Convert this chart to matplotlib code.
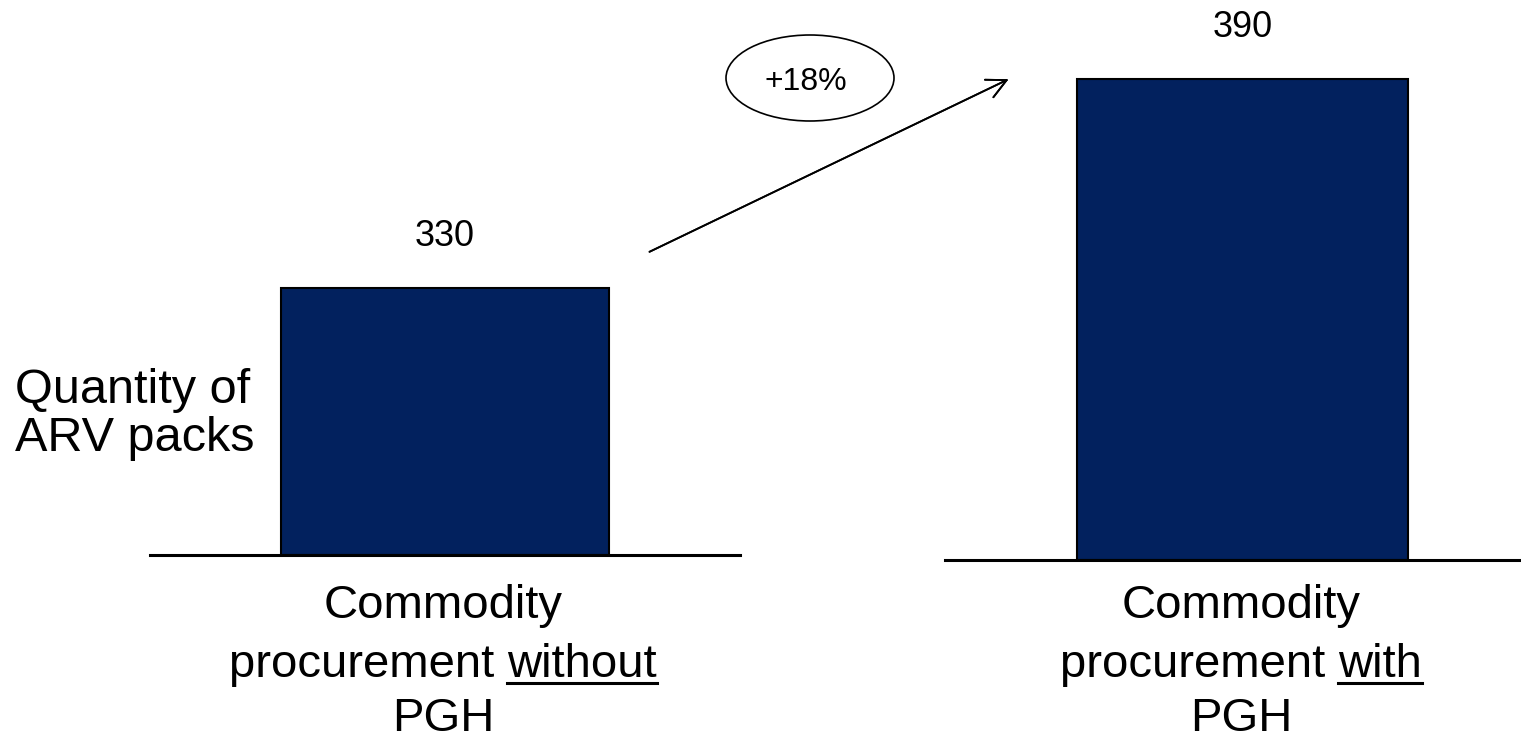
import matplotlib.pyplot as plt
from matplotlib.patches import Ellipse

plt.rcParams['font.family'] = ['Liberation Sans', 'DejaVu Sans']

# data
categories = ['Commodity procurement without PGH', 'Commodity procurement with PGH']
values = [330, 390]
label_lines = [
    ['Commodity', 'procurement ', 'without', 'PGH'],
    ['Commodity', 'procurement ', 'with', 'PGH'],
]
ylabel_lines = ['Quantity of', 'ARV packs']

W, H = 1521, 733
bar_color = '#02215E'


def fx(x):
    return x / W


def fy(y):
    return 1 - y / H


fig = plt.figure(figsize=(W / 100, H / 100), dpi=100)

# each bar sits on its own baseline, so one axes per bar
# (left px, right px, baseline px, pixel height of bar)
panels = [(150, 740, 555, 267), (945, 1540, 560, 481)]
for (x0, x1, base, hpx), val in zip(panels, values):
    ax = fig.add_axes([fx(x0), fy(base), (x1 - x0) / W, base / H])
    ax.bar([0.5], [val], width=0.557, color=bar_color, edgecolor='black', linewidth=1.5)
    ax.set_xlim(0, 1)
    ax.set_ylim(0, val * base / hpx)
    for s in ['top', 'left', 'right']:
        ax.spines[s].set_visible(False)
    ax.spines['bottom'].set_linewidth(2.2)
    ax.set_xticks([])
    ax.set_yticks([])
    ax.patch.set_alpha(0)
    ax.annotate(str(val), xy=(0.5, val), xytext=(0, 30.5), textcoords='offset points',
                ha='center', va='baseline', fontsize=26)

# y label
fig.text(fx(15), fy(403), ylabel_lines[0], ha='left', va='baseline', fontsize=35)
fig.text(fx(15), fy(451), ylabel_lines[1], ha='left', va='baseline', fontsize=35)

# category labels, with underline on the key word
fig.canvas.draw()
renderer = fig.canvas.get_renderer()
centers = [443, 1241]
baselines = [618, 677, 731]
fs = 34
for cx, lines in zip(centers, label_lines):
    fig.text(fx(cx), fy(baselines[0]), lines[0], ha='center', va='baseline', fontsize=fs)
    fig.text(fx(cx), fy(baselines[2]), lines[3], ha='center', va='baseline', fontsize=fs)
    t1 = fig.text(0, 0, lines[1], fontsize=fs)
    t2 = fig.text(0, 0, lines[2], fontsize=fs)
    w1 = t1.get_window_extent(renderer).width
    w2 = t2.get_window_extent(renderer).width
    left = cx - (w1 + w2) / 2
    t1.set_position((fx(left), fy(baselines[1])))
    t1.set_va('baseline')
    t2.set_position((fx(left + w1), fy(baselines[1])))
    t2.set_va('baseline')
    uy = fy(baselines[1] + 6)
    fig.add_artist(plt.Line2D([fx(left + w1), fx(left + w1 + w2)], [uy, uy],
                              color='black', linewidth=2.2))

# growth annotation
pct = (values[1] / values[0] - 1) * 100
fig.add_artist(Ellipse((fx(810), fy(78)), 168 / W, 86 / H, transform=fig.transFigure,
                       fill=False, edgecolor='black', linewidth=1.2))
fig.text(fx(806), fy(90), f'+{pct:.0f}%', ha='center', va='baseline', fontsize=23)
fig.add_artist(plt.annotate('', xy=(fx(1011), fy(78)), xytext=(fx(647), fy(253)),
                            xycoords='figure fraction', textcoords='figure fraction',
                            arrowprops=dict(arrowstyle='->', color='black', lw=1.3,
                                            mutation_scale=35)))

fig.savefig('out.png', dpi=100)
